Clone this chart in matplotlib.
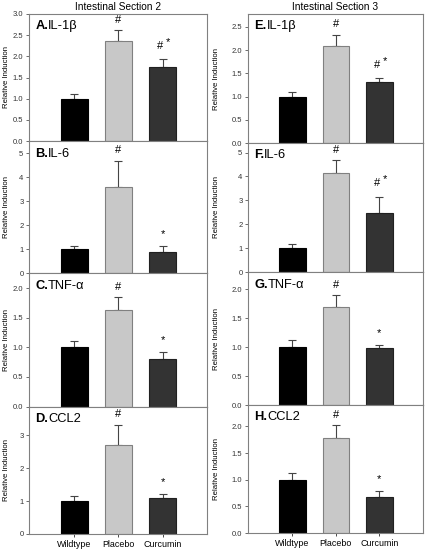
import numpy as np
import matplotlib
matplotlib.use("Agg")
import matplotlib.pyplot as plt

plt.rcParams["font.family"] = ["Liberation Sans", "DejaVu Sans"]

groups = ["Wildtype", "Placebo", "Curcumin"]

# Intestinal section 2
il1b_s2 = [1.0, 2.37, 1.74]
il1b_s2_err = [0.10, 0.25, 0.19]
il6_s2 = [1.0, 3.60, 0.89]
il6_s2_err = [0.13, 1.08, 0.22]
tnf_s2 = [1.0, 1.64, 0.81]
tnf_s2_err = [0.11, 0.21, 0.11]
ccl2_s2 = [1.0, 2.70, 1.11]
ccl2_s2_err = [0.17, 0.62, 0.11]

# Intestinal section 3
il1b_s3 = [1.0, 2.09, 1.31]
il1b_s3_err = [0.09, 0.24, 0.08]
il6_s3 = [1.0, 4.14, 2.46]
il6_s3_err = [0.17, 0.53, 0.70]
tnf_s3 = [1.0, 1.69, 0.98]
tnf_s3_err = [0.12, 0.21, 0.05]
ccl2_s3 = [1.0, 1.78, 0.68]
ccl2_s3_err = [0.13, 0.24, 0.10]

# significance marks per bar
marks_s2 = [["", "#", "#*"], ["", "#", "*"], ["", "#", "*"], ["", "#", "*"]]
marks_s3 = [["", "#", "#*"], ["", "#", "#*"], ["", "#", "*"], ["", "#", "*"]]

letters_s2 = ["A.", "B.", "C.", "D."]
letters_s3 = ["E.", "F.", "G.", "H."]
genes = ["IL-1β", "IL-6", "TNF-α", "CCL2"]

colors = ["#000000", "#c8c8c8", "#333333"]
edges = ["#000000", "#808080", "#202020"]

W, H = 426, 550
fig = plt.figure(figsize=(W / 100, H / 100), dpi=100)

# pixel boxes (top, bottom) for each panel
left_rows = [(14, 141), (141, 273), (273, 406.5), (406.5, 534)]
right_rows = [(14, 143), (143, 272), (272, 405), (405, 533)]
ylims_s2 = [3.0, 5.5, 2.26, 3.88]
ylims_s3 = [2.78, 5.4, 2.3, 2.4]
yticks_s2 = [np.arange(0, 3.01, 0.5), np.arange(0, 6, 1), np.arange(0, 2.01, 0.5), np.arange(0, 4, 1)]
yticks_s3 = [np.arange(0, 2.51, 0.5), np.arange(0, 6, 1), np.arange(0, 2.01, 0.5), np.arange(0, 2.01, 0.5)]
fmt_s2 = ["%.1f", "%d", "%.1f", "%d"]
fmt_s3 = ["%.1f", "%d", "%.1f", "%.1f"]

sec2 = (il1b_s2, il6_s2, tnf_s2, ccl2_s2)
sec2e = (il1b_s2_err, il6_s2_err, tnf_s2_err, ccl2_s2_err)
sec3 = (il1b_s3, il6_s3, tnf_s3, ccl2_s3)
sec3e = (il1b_s3_err, il6_s3_err, tnf_s3_err, ccl2_s3_err)

columns = [
    (29, 207, 10, left_rows, sec2, sec2e, marks_s2, letters_s2, ylims_s2, yticks_s2, fmt_s2, "Intestinal Section 2"),
    (248, 423, 220, right_rows, sec3, sec3e, marks_s3, letters_s3, ylims_s3, yticks_s3, fmt_s3, "Intestinal Section 3"),
]

x = np.arange(3)
for (x0, x1, xlab, rows, vals, errs, marks, letters, ylims, yticks, fmts, title) in columns:
    fig.text((x0 + x1) / 2 / W, 1 - 6.5 / H, title, ha="center", va="center", fontsize=7.3)
    for i, (t, b) in enumerate(rows):
        ax = fig.add_axes([x0 / W, 1 - b / H, (x1 - x0) / W, (b - t) / H])
        ax.bar(x, vals[i], width=0.61, color=colors, edgecolor=edges, linewidth=0.8, zorder=2)
        ax.errorbar(x, vals[i], yerr=[[0, 0, 0], errs[i]], fmt="none", ecolor="#444444",
                    elinewidth=0.8, capsize=3, capthick=0.8, zorder=1)
        ax.set_xlim(-1.02, 3.0)
        ax.set_ylim(0, ylims[i])
        ax.set_yticks(yticks[i])
        ax.set_yticklabels([fmts[i] % v for v in yticks[i]], fontsize=5.5)
        ax.tick_params(axis="y", length=2, width=0.5, pad=2, colors="#333333")
        for s in ax.spines.values():
            s.set_color("#808080")
            s.set_linewidth(0.8)
        ax.set_ylabel("Relative Induction", fontsize=5.6)
        ax.yaxis.set_label_coords((xlab - x0) / (x1 - x0), 0.5)
        if i == 3:
            ax.set_xticks(x)
            ax.set_xticklabels(groups, fontsize=6.4)
            ax.tick_params(axis="x", length=2, width=0.5, pad=2)
        else:
            ax.set_xticks([])
        t1 = ax.text(0.035, 0.905, letters[i], transform=ax.transAxes, fontsize=9.3,
                     fontweight="bold", va="center", ha="left")
        ax.annotate(genes[i], xy=(1.0, 0.5), xycoords=t1, fontsize=9.3,
                    va="center", ha="left")
        for j in range(3):
            m = marks[i][j]
            top = vals[i][j] + errs[i][j]
            if m == "#":
                ax.annotate("#", (x[j], top), xytext=(0, 4), textcoords="offset points",
                            ha="center", va="bottom", fontsize=8)
            elif m == "*":
                ax.annotate("*", (x[j], top), xytext=(0, 5), textcoords="offset points",
                            ha="center", va="bottom", fontsize=8)
            elif m == "#*":
                ax.annotate("#", (x[j], top), xytext=(-2, 6), textcoords="offset points",
                            ha="center", va="bottom", fontsize=8)
                ax.annotate("*", (x[j], top), xytext=(4, 9), textcoords="offset points",
                            ha="center", va="bottom", fontsize=8)

fig.savefig("out.png", dpi=100)
